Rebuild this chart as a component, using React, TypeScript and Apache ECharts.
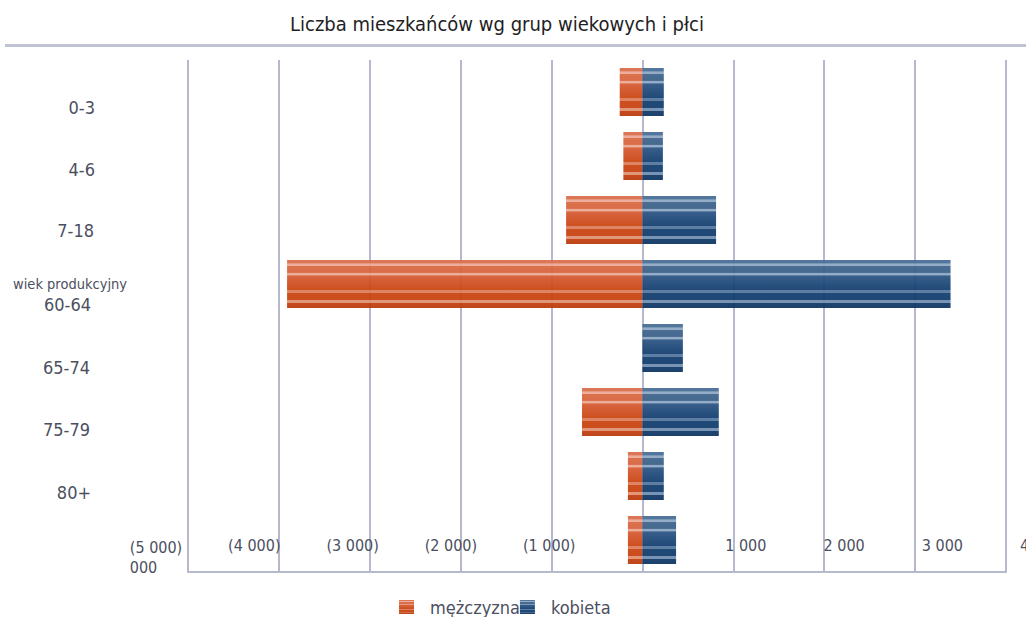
import React, { useEffect, useRef, useState } from 'react';
import * as echarts from 'echarts';

const ageGroups = ['0-3', '4-6', '7-18', 'wiek produkcyjny', '60-64', '65-74', '75-79', '80+'];
const men = [-250, -210, -840, -3910, 0, -665, -160, -160];
const women = [235, 225, 810, 3390, 445, 840, 235, 370];
const yTickLabels = ['0-3', '4-6', '7-18', 'wiek produkcyjny\n60-64', '65-74', '75-79', '80+'];
const seriesNames = ['mężczyzna', 'kobieta'];
const titleText = 'Liczba mieszkańców wg grup wiekowych i płci';

const FONT = '"DejaVu Sans Condensed", "DejaVu Sans", sans-serif';
const TXT = '#4b4f60';

function grad(stops: [number, string][]) {
  return new echarts.graphic.LinearGradient(0, 0, 0, 1, stops.map(([offset, color]) => ({ offset, color })));
}

const orangeStops: [number, string][] = [
  [0, '#d86a48'], [0.07, '#da6e4c'], [0.075, '#eba893'], [0.13, '#eba893'], [0.135, '#d9673f'],
  [0.26, '#d6603a'], [0.265, '#eba892'], [0.32, '#eba892'], [0.325, '#d65a32'],
  [0.62, '#c9420f'], [0.625, '#dc7a58'], [0.68, '#dc7a58'], [0.685, '#c9420f'],
  [0.83, '#c6400e'], [0.835, '#e08e70'], [0.89, '#e08e70'], [0.895, '#c23e0c'], [1, '#b8380a'],
];
const blueStops: [number, string][] = [
  [0, '#456b94'], [0.07, '#476e95'], [0.075, '#8da6c2'], [0.13, '#8da6c2'], [0.135, '#3c638b'],
  [0.26, '#375d86'], [0.265, '#8da6c2'], [0.32, '#8da6c2'], [0.325, '#2a5282'],
  [0.62, '#0f3c6e'], [0.625, '#52759c'], [0.68, '#52759c'], [0.685, '#0f3c6e'],
  [0.83, '#0e3a6b'], [0.835, '#6e8db0'], [0.89, '#6e8db0'], [0.895, '#0d3766'], [1, '#0b3360'],
];

// per-label text offsets [top, right, bottom, left] (label placement only)
const yLabelPads: number[][] = [
  [0, 32, 0, 0],
  [0, 32, 0, 0],
  [0, 33, 2, 0],
  [0, 36, 0, 0],
  [24, 37, 0, 0],
  [24, 37, 0, 0],
  [26, 36, 0, 0],
];

function thousands(n: number) {
  return String(n).replace(/\B(?=(\d{3})+(?!\d))/g, ' ');
}

export default function App() {
  const ref = useRef<HTMLDivElement>(null);
  const [err, setErr] = useState('');
  useEffect(() => {
    if (!ref.current) return;
    const chart = echarts.init(ref.current, undefined, { renderer: 'svg' });
    const gridColor = '#b6b8ce';
    const hiddenAxis = {
      axisLine: { show: false },
      axisTick: { show: false },
      axisLabel: { show: false },
      splitLine: { show: false },
    };
    const rich: Record<string, any> = {
      s: { fontFamily: FONT, fontSize: 14.5, color: TXT, padding: [4, 0, 4, 0] },
    };
    yLabelPads.forEach((p, i) => {
      rich['r' + i] = { fontFamily: FONT, fontSize: 18, color: TXT, padding: p };
    });
    try {
      chart.setOption({
        animation: false,
        backgroundColor: '#ffffff',
        textStyle: { fontFamily: FONT },
        title: {
          text: titleText,
          left: 285,
          top: 9,
          textStyle: { fontFamily: FONT, fontSize: 20, fontWeight: 'normal', color: '#1e1e24' },
        },
        graphic: [
          {
            type: 'rect',
            shape: { x: 5, y: 44, width: 1021, height: 3 },
            style: { fill: '#bfc2d2' },
            silent: true,
          },
        ],
        legend: {
          left: 394,
          top: 593,
          itemWidth: 15,
          itemHeight: 14,
          itemGap: 0,
          icon: 'rect',
          textStyle: { fontFamily: FONT, fontSize: 18, color: TXT, padding: [0, 0, 0, 11] },
          data: seriesNames,
        },
        grid: [
          { left: 188, right: 20, top: 60, bottom: 45, outerBoundsMode: 'none' },
          { left: 135, width: 10, top: 76, height: 434, outerBoundsMode: 'none' },
          { left: 156, width: 983, top: 480, height: 50, outerBoundsMode: 'none' },
        ],
        xAxis: [
          {
            gridIndex: 0,
            type: 'value',
            min: -5000,
            max: 4000,
            interval: 1000,
            axisLine: { show: true, lineStyle: { color: gridColor, width: 2 } },
            axisTick: { show: false },
            axisLabel: { show: false },
            splitLine: { show: true, lineStyle: { color: gridColor, width: 2 } },
          },
          { gridIndex: 1, type: 'value', min: 0, max: 1, ...hiddenAxis },
          {
            gridIndex: 2,
            type: 'value',
            min: -5000,
            max: 5000,
            interval: 1000,
            axisLine: { show: false },
            axisTick: { show: false },
            splitLine: { show: false },
            axisLabel: {
              show: true,
              margin: 7,
              fontFamily: FONT,
              fontSize: 16,
              color: TXT,
              formatter: (v: number) => {
                if (v === 0) return '';
                if (v === -5000) return '{a|(' + thousands(-v) + ')}\n{l|000}';
                return v < 0 ? '(' + thousands(-v) + ')' : thousands(v);
              },
              rich: {
                a: { fontFamily: FONT, fontSize: 16, color: TXT, lineHeight: 20 },
                l: { fontFamily: FONT, fontSize: 16, color: TXT, lineHeight: 20, align: 'left' },
              },
            },
          },
        ],
        yAxis: [
          {
            gridIndex: 0,
            type: 'category',
            inverse: true,
            data: ageGroups,
            ...hiddenAxis,
          },
          {
            gridIndex: 1,
            type: 'category',
            inverse: true,
            data: yTickLabels,
            axisLine: { show: false },
            axisTick: { show: false },
            splitLine: { show: false },
            axisLabel: {
              margin: 8,
              interval: 0,
              fontFamily: FONT,
              fontSize: 18,
              color: TXT,
              formatter: (v: string, i: number) => {
                const parts = v.split('\n');
                if (parts.length > 1) return '{s|' + parts[0] + '}\n{r' + i + '|' + parts[1] + '}';
                return '{r' + i + '|' + v + '}';
              },
              rich,
            },
          },
          { gridIndex: 2, type: 'value', min: 0, max: 1, ...hiddenAxis },
        ],
        series: [
          {
            name: seriesNames[0],
            type: 'bar',
            xAxisIndex: 0,
            yAxisIndex: 0,
            data: men,
            barWidth: 48,
            barGap: '-100%',
            itemStyle: { color: grad(orangeStops), opacity: 0.93 },
          },
          {
            name: seriesNames[1],
            type: 'bar',
            xAxisIndex: 0,
            yAxisIndex: 0,
            data: women,
            barWidth: 48,
            barGap: '-100%',
            itemStyle: { color: grad(blueStops), opacity: 0.93 },
          },
        ],
      });
    } catch (e: any) {
      setErr(String(e && e.stack ? e.stack : e));
    }
    return () => chart.dispose();
  }, []);
  return (
    <>
      <div ref={ref} style={{ position: 'fixed', left: 0, top: 0, width: 1026, height: 617 }} />
      {err ? <pre style={{ position: 'fixed', left: 0, top: 0, fontSize: 10, zIndex: 10, background: '#fff' }}>{err}</pre> : null}
    </>
  );
}
